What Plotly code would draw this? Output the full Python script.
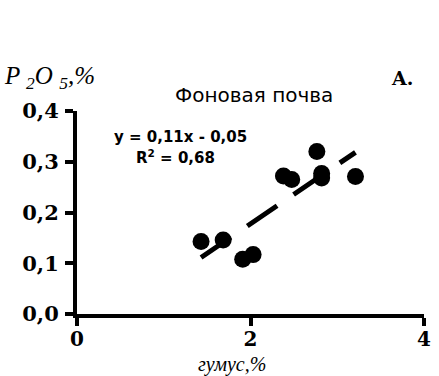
import numpy as np
import plotly.graph_objects as go

# Data
humus = [1.43, 1.685, 1.91, 2.03, 2.38, 2.475, 2.765, 2.82, 2.82, 3.21]
p2o5 = [0.143, 0.146, 0.108, 0.117, 0.272, 0.265, 0.320, 0.277, 0.268, 0.271]
x_ticks = [0, 2, 4]
y_ticks = [0.0, 0.1, 0.2, 0.3, 0.4]
y_ticklabels = ["0,0", "0,1", "0,2", "0,3", "0,4"]
title_text = "Фоновая почва"
eq_text = "y = 0,11x - 0,05"
r2_text = "R<sup>2</sup> = 0,68"
panel_label = "A."
x_title = "гумус,%"
y_title = "P <sub>2</sub>O <sub>5</sub>,%"

# Linear trend through the data
slope, intercept = np.polyfit(humus, p2o5, 1)
tx = np.array([min(humus), max(humus)])
ty = slope * tx + intercept

fig = go.Figure()
fig.add_trace(go.Scatter(x=tx, y=ty, mode="lines",
                         line=dict(color="black", width=5, dash="36px,20px"),
                         hoverinfo="skip", showlegend=False))
fig.add_trace(go.Scatter(x=humus, y=p2o5, mode="markers",
                         marker=dict(color="black", size=17),
                         showlegend=False))

tickfont = dict(family="DejaVu Serif", size=21, color="black", weight="bold")
fig.update_xaxes(range=[0, 4], tickvals=x_ticks, ticktext=[str(v) for v in x_ticks],
                 showgrid=False, zeroline=False, showline=True, linecolor="black",
                 linewidth=4, ticks="outside", ticklen=8, tickwidth=4, tickcolor="black",
                 tickfont=dict(family="DejaVu Serif", size=20, color="black", weight="bold"),
                 ticklabelstandoff=-4)
fig.update_yaxes(range=[0, 0.4], tickvals=y_ticks, ticktext=y_ticklabels,
                 showgrid=False, zeroline=False, showline=True, linecolor="black",
                 linewidth=4, ticks="outside", ticklen=8, tickwidth=4, tickcolor="black",
                 tickfont=tickfont, ticklabelstandoff=2)

common = dict(xref="paper", yref="paper", showarrow=False, xanchor="center", yanchor="middle")
ann = [
    dict(x=0.51, y=1.079, text=title_text,
         font=dict(family="DejaVu Sans", size=20, color="black"), **common),
    dict(x=1.19, y=0.349, text=eq_text, showarrow=False,
         font=dict(family="DejaVu Sans", size=15, color="black", weight="bold")),
    dict(x=1.135, y=0.309, text=r2_text, showarrow=False,
         font=dict(family="DejaVu Sans", size=15, color="black", weight="bold")),
    dict(x=0.938, y=1.163, text=panel_label,
         font=dict(family="DejaVu Serif", size=19, color="black", weight="bold"), **common),
    dict(x=-0.215, y=1.167, xref="paper", yref="paper", text=y_title, showarrow=False,
         xanchor="left", yanchor="middle",
         font=dict(family="Liberation Serif", size=25, color="black", style="italic")),
    dict(x=0.446, y=-0.25, text=x_title,
         font=dict(family="Liberation Serif", size=20, color="black", style="italic"), **common),
]
fig.update_layout(width=439, height=376, plot_bgcolor="white", paper_bgcolor="white",
                  margin=dict(l=77, r=8, t=111, b=62), annotations=ann)

fig.write_html("out.html")
